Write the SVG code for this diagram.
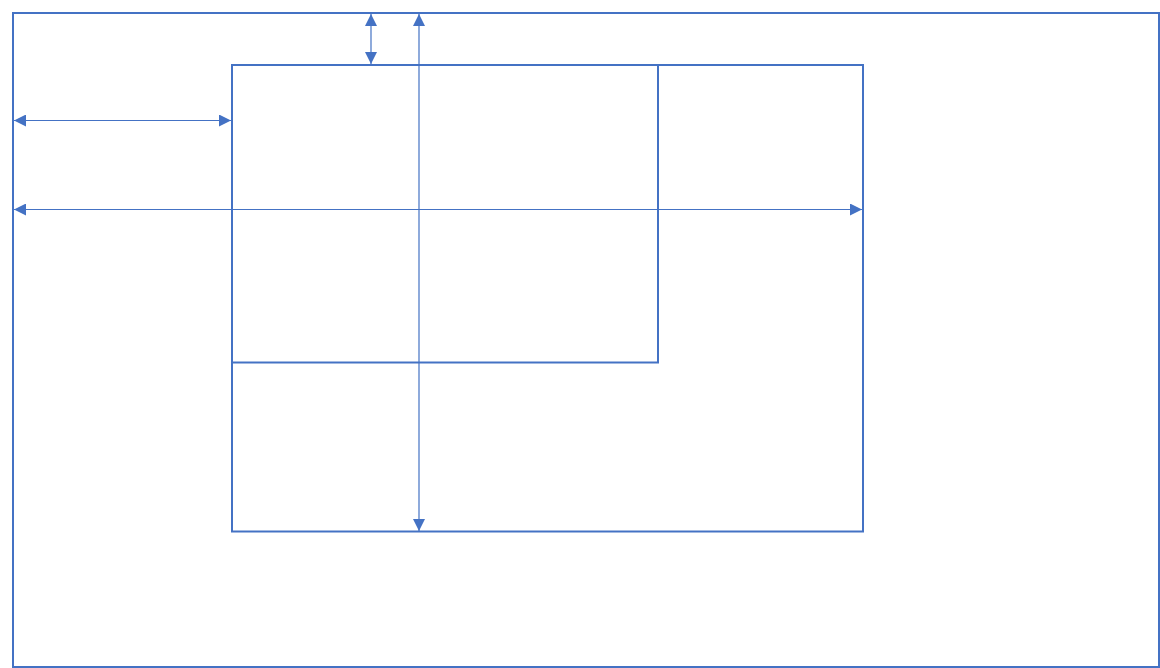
<svg xmlns="http://www.w3.org/2000/svg" width="1160" height="668" viewBox="0 0 1160 668">
<style>
.box{fill:none;stroke:#4472C4;stroke-width:2}
.dim{fill:none;stroke:#4472C4;stroke-width:1.2;marker-start:url(#ah);marker-end:url(#ah)}
</style>
<defs>
<marker id="ah" viewBox="0 0 12 12" refX="12" refY="6" markerWidth="12" markerHeight="12" markerUnits="userSpaceOnUse" orient="auto-start-reverse">
<path d="M0,0 L12,6 L0,12 Z" fill="#4472C4"/>
</marker>
</defs>
<rect width="1160" height="668" fill="#ffffff"/>
<g id="outer"><rect class="box" x="13" y="13" width="1146" height="654"/></g>
<g id="inner"><rect class="box" x="232" y="65" width="631" height="466.5"/></g>
<g id="inner-small"><rect class="box" x="232" y="65" width="426" height="297.5"/></g>
<g id="connectors">
<line class="dim" x1="371" y1="14" x2="371" y2="64"/>
<line class="dim" x1="419" y1="14" x2="419" y2="531"/>
<line class="dim" x1="14" y1="120.5" x2="231" y2="120.5"/>
<line class="dim" x1="14" y1="209.5" x2="862" y2="209.5"/>
</g>
</svg>
